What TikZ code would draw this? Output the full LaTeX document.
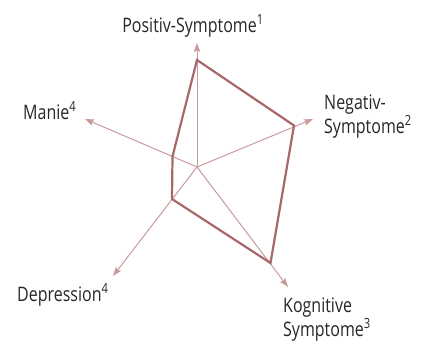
\documentclass[tikz,border=0pt]{standalone}
\usepackage{fontspec}
\setmainfont{Open Sans}[FakeStretch=0.8]
\usetikzlibrary{arrows.meta}
\definecolor{axisrose}{HTML}{C89A9C}
\definecolor{datarose}{HTML}{A8676B}

\begin{document}
\begin{tikzpicture}[
  x=1pt,y=-1pt,
  axis/.style={-{Stealth[length=9pt,width=6.5pt,inset=1.5pt]},axisrose,line width=1pt},
  profile/.style={datarose,line width=2.2pt,line join=miter},
  axislabel/.style={inner sep=0pt,align=left,font=\fontsize{20}{24}\selectfont,text=black!85}]

  \useasboundingbox (0,0) rectangle (424,343);

  % centre, axis ends and values
  \coordinate (O) at (197,167);
  \coordinate (PosEnd) at (197,43);
  \coordinate (NegEnd) at (313,119);
  \coordinate (KogEnd) at (288,287);
  \coordinate (DepEnd) at (113,276);
  \coordinate (ManEnd) at (85,119);
  \coordinate (PosVal) at (197,60);
  \coordinate (NegVal) at (294,125.5);
  \coordinate (KogVal) at (270.5,263);
  \coordinate (DepVal) at (172,199);
  \coordinate (ManVal) at (172.5,156.5);

  % axes
  \foreach \e in {PosEnd,NegEnd,KogEnd,DepEnd,ManEnd}
    \draw[axis] (O) -- (\e);

  % profile
  \draw[profile] (PosVal) -- (NegVal) -- (KogVal) -- (DepVal) -- (ManVal) -- cycle;

  % labels
  \node[axislabel,anchor=base] (PosLab) at (193,32) {Positiv-Symptome\textsuperscript{1}};
  \node[axislabel,anchor=base west] (NegLab) at (324,133) {Negativ-\\Symptome\textsuperscript{2}};
  \node[axislabel,anchor=base west] (KogLab) at (283,336) {Kognitive\\Symptome\textsuperscript{3}};
  \node[axislabel,anchor=base west] (DepLab) at (17,301) {Depression\textsuperscript{4}};
  \node[axislabel,anchor=base west] (ManLab) at (23,119) {Manie\textsuperscript{4}};
\end{tikzpicture}
\end{document}
